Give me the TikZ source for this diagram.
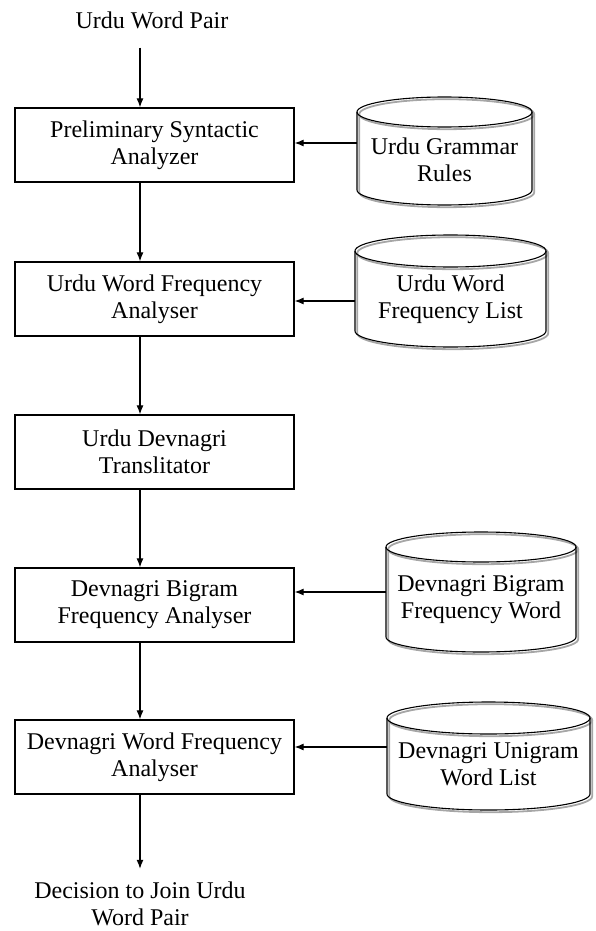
\documentclass[tikz,border=0pt]{standalone}
\usepackage{fontspec}
\setmainfont{Liberation Serif}
\usetikzlibrary{arrows.meta}

% Database cylinder: name, left x, right x, top y, bottom y, ellipse half-height, text y, text
\newcommand{\dbcyl}[8]{%
  \pgfmathsetmacro\cylcx{(#2+#3)/2}%
  \pgfmathsetmacro\cylrx{(#3-#2)/2}%
  \pgfmathsetmacro\cylw{#3-#2}%
  \pgfmathsetmacro\cylyt{#4+#6}%
  \pgfmathsetmacro\cylyb{#5-#6}%
  \foreach \sdx/\scol/\slw in {2.2/black!35/1.8pt, 0/black/1.1pt}{%
    \begin{scope}[shift={(\sdx,\sdx)}]
      \draw[draw=\scol, line width=\slw] (#2,\cylyt) -- (#2,\cylyb)
        arc[start angle=180, end angle=360, x radius=\cylrx pt, y radius=#6pt]
        -- (#3,\cylyt);
      \draw[draw=\scol, line width=\slw] (\cylcx,\cylyt)
        ellipse[x radius=\cylrx pt, y radius=#6pt];
    \end{scope}
  }%
  \node[align=center, inner sep=0pt, minimum width=\cylw pt] (#1) at (\cylcx,#7) {#8};%
}

\begin{document}
\begin{tikzpicture}[x=1pt, y=-1pt,
  every node/.style={font=\fontsize{24}{27}\selectfont},
  proc/.style={draw, line width=1.3pt, minimum width=279pt, minimum height=74pt,
    inner sep=0pt, align=center},
  label/.style={align=center, inner sep=0pt},
  arr/.style={-{Latex[length=9pt, width=7pt]}, line width=1.1pt}]

  \useasboundingbox (0,0) rectangle (596,931);

  % vertical line of the main flow and heights of the side arrows
  \coordinate (spine) at (140,0);
  \coordinate (h1) at (0,143);
  \coordinate (h2) at (0,301);
  \coordinate (h3) at (0,592);
  \coordinate (h4) at (0,747);

  % processing steps
  \node[label] (src) at (152,20) {Urdu Word Pair};
  \node[proc] (b1) at (154.5,145) {Preliminary Syntactic\\Analyzer};
  \node[proc] (b2) at (154.5,299) {Urdu Word Frequency\\Analyser};
  \node[proc] (b3) at (154.5,452) {Urdu Devnagri\\Translitator};
  \node[proc] (b4) at (154.5,605) {Devnagri Bigram\\Frequency Analyser};
  \node[proc] (b5) at (154.5,757) {Devnagri Word Frequency\\Analyser};
  \node[label] (dec) at (140,904) {Decision to Join Urdu\\Word Pair};

  % data stores
  \dbcyl{c1}{357}{532}{97}{205}{15}{160}{Urdu Grammar\\Rules}
  \dbcyl{c2}{355}{546}{235}{347}{16}{299.5}{Urdu Word\\Frequency List}
  \dbcyl{c3}{386}{576}{532}{652}{15}{600}{Devnagri Bigram\\Frequency Word}
  \dbcyl{c4}{387}{590}{702}{810}{16}{764}{Devnagri Unigram\\Word List}

  % main flow
  \draw[arr, shorten <=19pt] (src.south -| spine) -- (b1.north -| spine);
  \draw[arr] (b1.south -| spine) -- (b2.north -| spine);
  \draw[arr] (b2.south -| spine) -- (b3.north -| spine);
  \draw[arr] (b3.south -| spine) -- (b4.north -| spine);
  \draw[arr] (b4.south -| spine) -- (b5.north -| spine);
  \draw[arr, shorten >=13pt] (b5.south -| spine) -- (dec.north -| spine);

  % inputs from the data stores
  \draw[arr] (c1.west |- h1) -- (b1.east |- h1);
  \draw[arr] (c2.west |- h2) -- (b2.east |- h2);
  \draw[arr] (c3.west |- h3) -- (b4.east |- h3);
  \draw[arr] (c4.west |- h4) -- (b5.east |- h4);
\end{tikzpicture}
\end{document}
